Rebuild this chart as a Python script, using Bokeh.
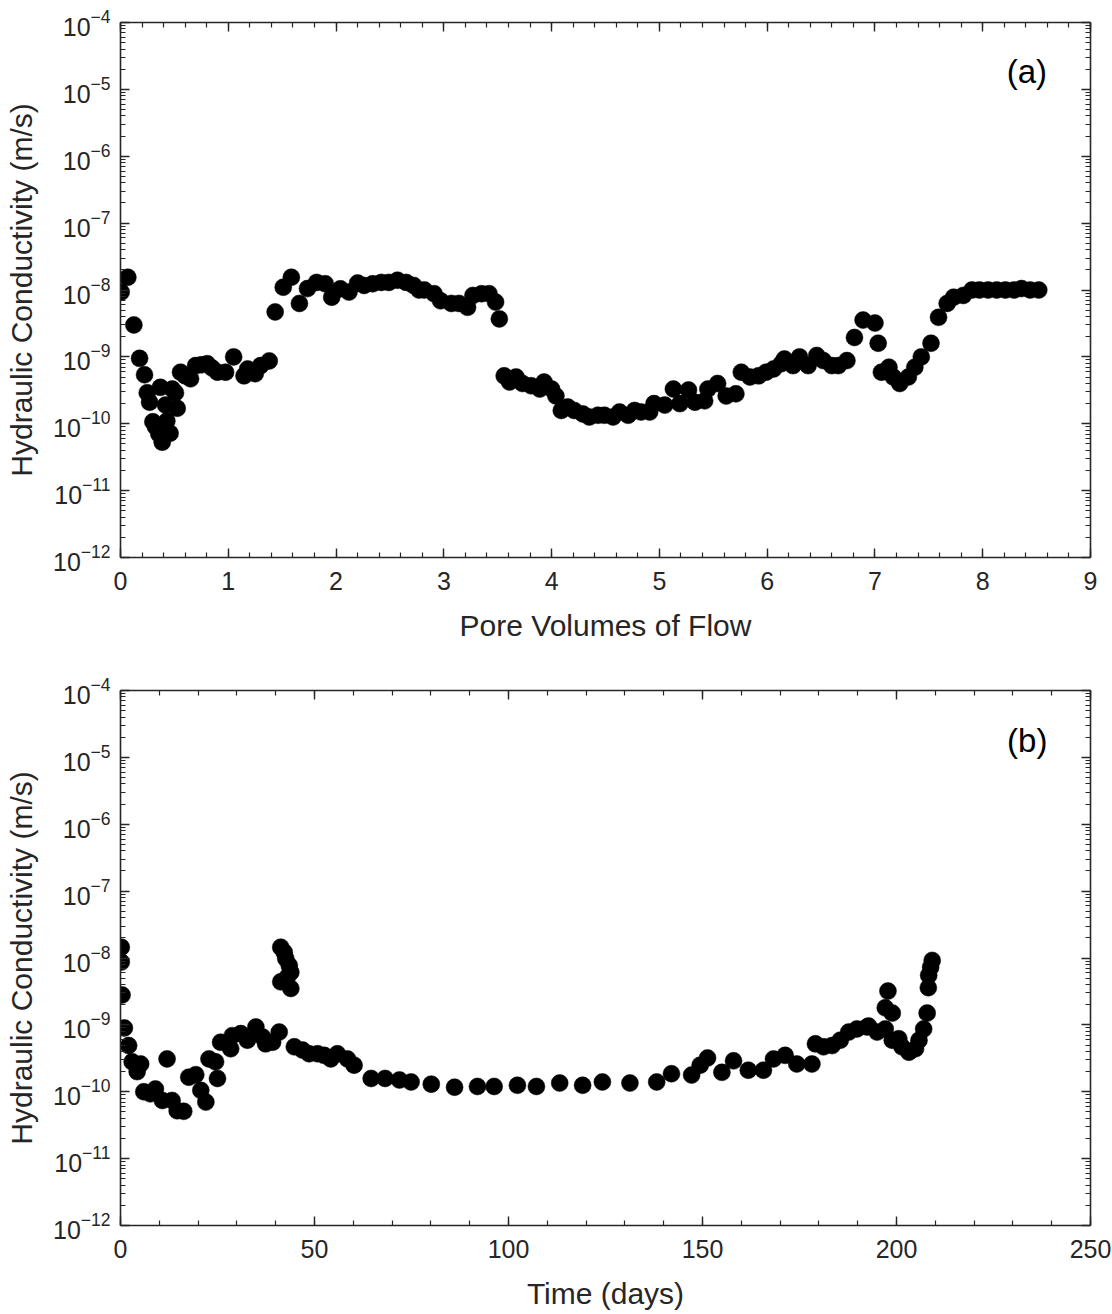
from bokeh.plotting import figure
from bokeh.layouts import column
from bokeh.models import (FixedTicker, LogTickFormatter, LinearAxis, LogAxis,
                          Label, Range1d, ColumnDataSource, CustomLabelingPolicy)
from bokeh.embed import file_html
from bokeh.resources import INLINE

# ---------------- data ----------------
# Panel (a): hydraulic conductivity vs pore volumes of flow
pv_a = [0.006, 0.068, 0.124, 0.177, 0.223, 0.248, 0.27, 0.30, 0.325, 0.356,
        0.37, 0.387, 0.418, 0.43, 0.46, 0.48, 0.51, 0.526, 0.557, 0.60,
        0.65, 0.697, 0.75, 0.805, 0.85, 0.90, 0.975, 1.05, 1.146, 1.18,
        1.25, 1.30, 1.38, 1.435, 1.51, 1.585, 1.66, 1.735, 1.82, 1.90,
        1.96, 2.04, 2.12, 2.20, 2.26, 2.34, 2.42, 2.49, 2.57, 2.65,
        2.72, 2.77, 2.82, 2.91, 2.97, 3.07, 3.14, 3.22, 3.27, 3.35,
        3.42, 3.48, 3.515, 3.56, 3.61, 3.67, 3.73, 3.81, 3.89, 3.93,
        4.0, 4.04, 4.09, 4.15, 4.21, 4.29, 4.35, 4.43, 4.49, 4.57,
        4.63, 4.71, 4.77, 4.83, 4.91, 4.95, 5.05, 5.13, 5.19, 5.27,
        5.33, 5.42, 5.45, 5.54, 5.62, 5.71, 5.76, 5.84, 5.92, 5.99,
        6.06, 6.13, 6.16, 6.24, 6.30, 6.38, 6.46, 6.52, 6.60, 6.66,
        6.74, 6.81, 6.89, 7.0, 7.03, 7.06, 7.13, 7.17, 7.23, 7.31,
        7.37, 7.43, 7.52, 7.59, 7.67, 7.73, 7.82, 7.90, 7.97, 8.05,
        8.13, 8.21, 8.29, 8.36, 8.44, 8.52]
k_a = [9.3e-9, 1.55e-8, 3.0e-9, 9.5e-10, 5.4e-10, 2.9e-10, 2.1e-10, 1.07e-10, 9.0e-11, 7.0e-11,
       3.5e-10, 5.3e-11, 1.9e-10, 1.1e-10, 7.2e-11, 3.3e-10, 2.9e-10, 1.7e-10, 5.9e-10, 5.2e-10,
       4.7e-10, 7.4e-10, 7.6e-10, 7.9e-10, 6.8e-10, 5.9e-10, 5.9e-10, 1.0e-9, 5.2e-10, 6.6e-10,
       5.6e-10, 7.4e-10, 8.7e-10, 4.7e-9, 1.1e-8, 1.55e-8, 6.3e-9, 1.05e-8, 1.3e-8, 1.24e-8,
       7.8e-9, 1.04e-8, 9.3e-9, 1.27e-8, 1.17e-8, 1.24e-8, 1.3e-8, 1.3e-8, 1.4e-8, 1.3e-8,
       1.17e-8, 1.0e-8, 1.0e-8, 8.8e-9, 6.9e-9, 6.3e-9, 6.3e-9, 5.5e-9, 8.3e-9, 8.8e-9,
       8.8e-9, 6.6e-9, 3.7e-9, 5.2e-10, 4.2e-10, 5.0e-10, 4.0e-10, 3.7e-10, 3.3e-10, 4.2e-10,
       3.3e-10, 2.6e-10, 1.58e-10, 1.78e-10, 1.58e-10, 1.4e-10, 1.26e-10, 1.34e-10, 1.34e-10, 1.26e-10,
       1.5e-10, 1.34e-10, 1.58e-10, 1.5e-10, 1.5e-10, 2.0e-10, 1.9e-10, 3.3e-10, 2.0e-10, 3.2e-10,
       2.1e-10, 2.2e-10, 3.3e-10, 4.0e-10, 2.6e-10, 2.8e-10, 5.9e-10, 5.0e-10, 5.2e-10, 5.9e-10,
       6.6e-10, 7.9e-10, 9.3e-10, 7.4e-10, 1.0e-9, 7.4e-10, 1.05e-9, 8.8e-10, 7.4e-10, 7.4e-10,
       8.8e-10, 1.95e-9, 3.55e-9, 3.2e-9, 1.6e-9, 5.9e-10, 7.0e-10, 5.0e-10, 4.0e-10, 5.0e-10,
       7.0e-10, 1.0e-9, 1.6e-9, 3.9e-9, 6.3e-9, 7.8e-9, 8.3e-9, 1.0e-8, 1.0e-8, 1.0e-8,
       1.0e-8, 1.0e-8, 1.0e-8, 1.05e-8, 1.0e-8, 1.0e-8]

# Panel (b): hydraulic conductivity vs time (days)
t_b = [0.2, 0.2, 0.4, 1.0, 2.1, 3.0, 4.3, 5.2, 6.0, 7.7,
       9.0, 10.8, 12.0, 13.3, 14.6, 16.3, 17.6, 19.4, 20.7, 22.0,
       22.8, 24.5, 25.0, 25.8, 28.4, 28.8, 31.0, 32.7, 34.9, 36.6,
       37.4, 39.2, 40.9, 41.3, 41.3, 42.2, 42.6, 43.0, 43.5, 43.9,
       43.9, 44.8, 46.9, 48.6, 50.8, 52.5, 54.2, 55.9, 58.5, 60.2,
       64.6, 68.2, 71.9, 74.9, 80.1, 86.1, 92.0, 96.3, 102.3, 107.2,
       113.2, 119.1, 124.2, 131.3, 138.2, 142.0, 147.2, 149.4, 151.3, 155.0,
       158.0, 161.8, 165.7, 168.3, 171.3, 174.3, 178.2, 179.1, 181.2, 183.4,
       185.5, 187.7, 189.8, 192.4, 192.8, 195.0, 197.1, 197.1, 197.8, 198.9,
       198.9, 200.6, 201.4, 203.2, 204.9, 205.8, 207.0, 207.9, 208.2, 208.3,
       208.8, 209.2]
k_b = [1.45e-8, 8.7e-9, 2.8e-9, 9e-10, 4.9e-10, 2.8e-10, 2.0e-10, 2.6e-10, 1.0e-10, 9.3e-11,
       1.1e-10, 7.4e-11, 3.1e-10, 7.4e-11, 5.2e-11, 5.1e-11, 1.65e-10, 1.8e-10, 1.05e-10, 7.0e-11,
       3.1e-10, 2.8e-10, 1.58e-10, 5.5e-10, 4.4e-10, 6.9e-10, 7.4e-10, 5.9e-10, 9.3e-10, 6.6e-10,
       5.2e-10, 5.5e-10, 7.8e-10, 1.45e-8, 4.4e-9, 1.22e-8, 9.8e-9, 5.2e-9, 7.7e-9, 3.5e-9,
       6.1e-9, 4.7e-10, 4.2e-10, 3.7e-10, 3.7e-10, 3.5e-10, 3.1e-10, 3.7e-10, 3.1e-10, 2.5e-10,
       1.58e-10, 1.58e-10, 1.5e-10, 1.4e-10, 1.3e-10, 1.17e-10, 1.2e-10, 1.2e-10, 1.25e-10, 1.2e-10,
       1.35e-10, 1.25e-10, 1.4e-10, 1.35e-10, 1.4e-10, 1.86e-10, 1.78e-10, 2.5e-10, 3.2e-10, 1.95e-10,
       2.9e-10, 2.1e-10, 2.1e-10, 3.1e-10, 3.5e-10, 2.6e-10, 2.6e-10, 5.2e-10, 4.7e-10, 4.9e-10,
       5.9e-10, 7.8e-10, 8.7e-10, 9.3e-10, 9.6e-10, 7.8e-10, 8.7e-10, 1.8e-9, 3.2e-9, 1.5e-9,
       5.9e-10, 6.2e-10, 4.7e-10, 3.9e-10, 4.4e-10, 5.9e-10, 8.7e-10, 1.5e-9, 3.6e-9, 5.5e-9,
       7.3e-9, 9.2e-9]

x_ticks_a = [0, 1, 2, 3, 4, 5, 6, 7, 8, 9]
x_ticks_b = [0, 50, 100, 150, 200, 250]
y_exponents = [-12, -11, -10, -9, -8, -7, -6, -5, -4]

xlabel_a = "Pore Volumes of Flow"
xlabel_b = "Time (days)"
ylabel = "Hydraulic Conductivity (m/s)"
tag_a, tag_b = "(a)", "(b)"
tag_pos_a = (8.41, 10 ** -4.73)
tag_pos_b = (233.7, 10 ** -4.75)

# ---------------- styling ----------------
FONT = "Liberation Sans"
INK = "#262626"

y_major = [10.0 ** e for e in y_exponents]
y_minor = [m * 10.0 ** e for e in y_exponents[:-1] for m in range(2, 10)]

HIDE_ALL = "const all = [...indices]; for (const i of all) { indices.unset(i) } return indices"


def style_axis(ax, labels=True, label_standoff=11, title_standoff=13):
    ax.axis_line_color = INK
    ax.axis_line_width = 1.6
    ax.major_tick_line_color = INK
    ax.minor_tick_line_color = INK
    ax.major_tick_line_width = 1.4
    ax.minor_tick_line_width = 1.2
    ax.major_tick_in = 9
    ax.major_tick_out = 0
    ax.minor_tick_in = 5
    ax.minor_tick_out = 0
    ax.major_label_text_font = FONT
    ax.major_label_text_color = INK
    ax.axis_label_text_font = FONT
    ax.axis_label_text_font_style = "normal"
    ax.axis_label_text_color = INK
    ax.axis_label_text_font_size = "30px"
    if labels:
        ax.major_label_text_font_size = "25px"
        ax.major_label_standoff = label_standoff
        ax.axis_label_standoff = title_standoff
    else:
        ax.major_label_text_font_size = "1px"
        ax.major_label_standoff = 0
        ax.major_label_policy = CustomLabelingPolicy(code=HIDE_ALL)


def make_panel(x, y, xmax, xticks, xminor, xlabel, tag, tag_pos, top, bottom):
    p = figure(width=1112, height=657, y_axis_type="log",
               x_range=Range1d(0, xmax), y_range=Range1d(1e-12, 1e-4),
               output_backend="svg", toolbar_location=None,
               min_border_left=120, min_border_right=22,
               min_border_top=top, min_border_bottom=bottom)
    p.xgrid.visible = False
    p.ygrid.visible = False
    p.outline_line_color = None
    p.background_fill_color = "white"
    p.border_fill_color = "white"

    p.xaxis[0].ticker = FixedTicker(ticks=xticks, minor_ticks=xminor)
    p.xaxis[0].axis_label = xlabel
    style_axis(p.xaxis[0], label_standoff=14, title_standoff=16)

    p.yaxis[0].ticker = FixedTicker(ticks=y_major, minor_ticks=y_minor)
    p.yaxis[0].formatter = LogTickFormatter()
    p.yaxis[0].axis_label = ylabel
    style_axis(p.yaxis[0], label_standoff=10, title_standoff=12)

    top_ax = LinearAxis(ticker=FixedTicker(ticks=xticks, minor_ticks=xminor))
    style_axis(top_ax, labels=False)
    p.add_layout(top_ax, "above")

    right_ax = LogAxis(ticker=FixedTicker(ticks=y_major, minor_ticks=y_minor),
                       formatter=LogTickFormatter())
    style_axis(right_ax, labels=False)
    p.add_layout(right_ax, "right")

    src = ColumnDataSource(dict(x=x, y=y))
    p.scatter("x", "y", source=src, size=17, fill_color="black",
              line_color="black", line_width=0.5)

    p.add_layout(Label(x=tag_pos[0], y=tag_pos[1], text=tag,
                       text_align="center", text_baseline="middle",
                       text_font=FONT, text_font_size="33px",
                       text_color="black"))
    return p


minor_a = [i * 0.2 for i in range(0, 46)]
minor_b = [i * 10 for i in range(0, 26)]

p1 = make_panel(pv_a, k_a, 9, x_ticks_a, minor_a, xlabel_a, tag_a, tag_pos_a, 22, 100)
p2 = make_panel(t_b, k_b, 250, x_ticks_b, minor_b, xlabel_b, tag_b, tag_pos_b, 33, 89)

layout = column(p1, p2)
open("out.html", "w").write(file_html(layout, INLINE))
